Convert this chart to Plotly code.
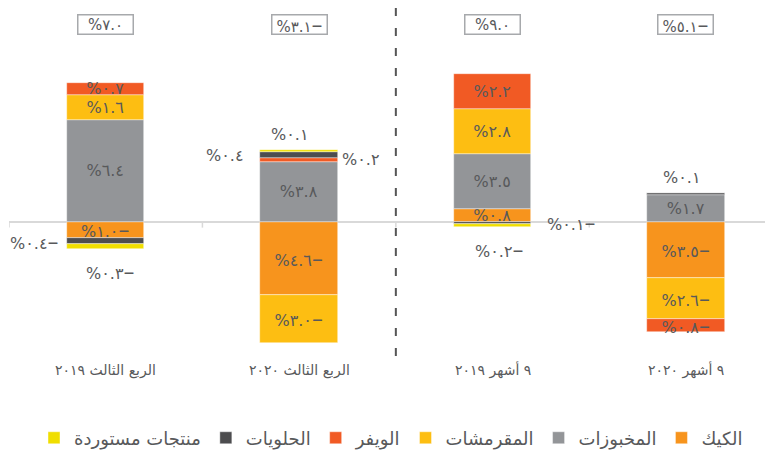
import plotly.graph_objects as go

# ---------------- data ----------------
categories = ["الربع الثالث ٢٠١٩", "الربع الثالث ٢٠٢٠", "٩ أشهر ٢٠١٩", "٩ أشهر ٢٠٢٠"]
series_names = ["الكيك", "المخبوزات", "المقرمشات", "الويفر", "الحلويات", "منتجات مستوردة"]
cake = [-1.0, -4.6, 0.8, -3.5]
bakery = [6.4, 3.8, 3.5, 1.7]
snacks = [1.6, -3.0, 2.8, -2.6]
wafer = [0.7, 0.2, 2.2, -0.8]
sweets = [-0.4, 0.4, -0.1, 0.1]
imported = [-0.3, 0.1, -0.2, 0.0]
totals = [7.0, -3.1, 9.0, -5.1]

series_values = [cake, bakery, snacks, wafer, sweets, imported]

# ---------------- styles ----------------
colors = ["#F7941D", "#939598", "#FDBE12", "#F15A24", "#4D4D4F", "#F0DE00"]
TXT = "#58595B"
FONT = "DejaVu Sans"

# the page adds an 8px body margin; the figure is sized to fill the rest
W, H = 765, 449
ZERO_PX = 215          # zero line, px from figure top
PX_PER_UNIT = 16

# labels drawn outside their (thin) segment: (series index, category index) -> (side, shift px)
outside = {
    (4, 0): ("left", -46), (5, 0): ("below", 4),
    (5, 1): ("above", -10), (4, 1): ("left", -54), (3, 1): ("right", 41),
    (5, 2): ("below", 6), (4, 2): ("right", 52),
    (4, 3): ("above", -4),
}
hidden = {(5, 3)}

AR = str.maketrans("0123456789", "٠١٢٣٤٥٦٧٨٩")
DASH = '<span style="font-size:22px">–</span>'


def fmt(v):
    s = "%" + f"{abs(v):.1f}".translate(AR)
    return s + DASH if v < 0 else s


fig = go.Figure()
for si, (name, vals) in enumerate(zip(series_names, series_values)):
    texts = []
    for ci, v in enumerate(vals):
        if (si, ci) in outside or (si, ci) in hidden:
            texts.append("")
        else:
            texts.append(fmt(v))
    fig.add_trace(go.Bar(
        x=list(range(len(categories))), y=vals, name=name,
        marker=dict(color=colors[si], line=dict(width=0.6, color="rgba(255,255,255,0.7)")),
        text=texts, textposition="inside", insidetextanchor="middle", textangle=0,
        textfont=dict(family=FONT, size=16, color=TXT),
        width=0.4, hoverinfo="skip",
    ))

# compute stacked segment extents through data
annotations = []
pos_base = [0.0] * len(categories)
neg_base = [0.0] * len(categories)
for si, vals in enumerate(series_values):
    for ci, v in enumerate(vals):
        if v >= 0:
            lo, hi = pos_base[ci], pos_base[ci] + v
            pos_base[ci] = hi
        else:
            hi, lo = neg_base[ci], neg_base[ci] + v
            neg_base[ci] = lo
        if (si, ci) not in outside:
            continue
        side, sh = outside[(si, ci)]
        mid = (lo + hi) / 2
        a = dict(x=ci, xref="x", yref="y", text=fmt(v), showarrow=False,
                 font=dict(family=FONT, size=16, color=TXT))
        if side == "left":
            a.update(y=mid, xanchor="right", yanchor="middle", xshift=sh)
        elif side == "right":
            a.update(y=mid, xanchor="left", yanchor="middle", xshift=sh)
        elif side == "above":
            a.update(y=hi, xanchor="center", yanchor="bottom", yshift=4, xshift=sh)
        else:
            a.update(y=lo, xanchor="center", yanchor="top", yshift=-8, xshift=sh)
        annotations.append(a)

# category labels
for ci, c in enumerate(categories):
    annotations.append(dict(x=ci, xref="x", y=1 - 364 / H, yref="paper", text=c,
                            showarrow=False, xanchor="center", yanchor="middle",
                            font=dict(family=FONT, size=14, color=TXT)))
# total boxes
for ci, t in enumerate(totals):
    annotations.append(dict(x=ci, xref="x", y=1 - 17 / H, yref="paper", text=fmt(t),
                            showarrow=False, xanchor="center", yanchor="middle",
                            width=54, height=18, borderpad=0, bordercolor="#A7A9AC", borderwidth=1.5,
                            font=dict(family=FONT, size=15, color=TXT)))

shapes = []
for b in [-0.5, 0.5, 1.5, 2.5]:
    shapes.append(dict(type="line", xref="x", yref="y", x0=b, x1=b, y0=0, y1=-0.35,
                       line=dict(color="#D9D9D9", width=1.5)))
shapes.append(dict(type="line", xref="x", yref="paper", x0=1.5, x1=1.5, y0=1, y1=1 - 358 / H,
                   line=dict(color="#555555", width=2, dash="8px,12px")))

fig.update_layout(
    width=W, height=H,
    margin=dict(l=1, r=0, t=0, b=0),
    paper_bgcolor="white", plot_bgcolor="white",
    barmode="relative", bargap=0,
    showlegend=True,
    legend=dict(orientation="h", traceorder="reversed", x=0.5, xanchor="center",
                y=1 - 432 / H, yanchor="middle", font=dict(family=FONT, size=18, color=TXT),
                itemwidth=30, bgcolor="rgba(0,0,0,0)"),
    xaxis=dict(range=[-0.5, 3.45], visible=False, fixedrange=True),
    yaxis=dict(range=[-(H - ZERO_PX) / PX_PER_UNIT, ZERO_PX / PX_PER_UNIT],
               showgrid=False, showticklabels=False,
               zeroline=True, zerolinecolor="#D9D9D9", zerolinewidth=2, fixedrange=True),
    uniformtext=dict(mode="show", minsize=16),
    annotations=annotations, shapes=shapes,
)

fig.write_html("out.html")
